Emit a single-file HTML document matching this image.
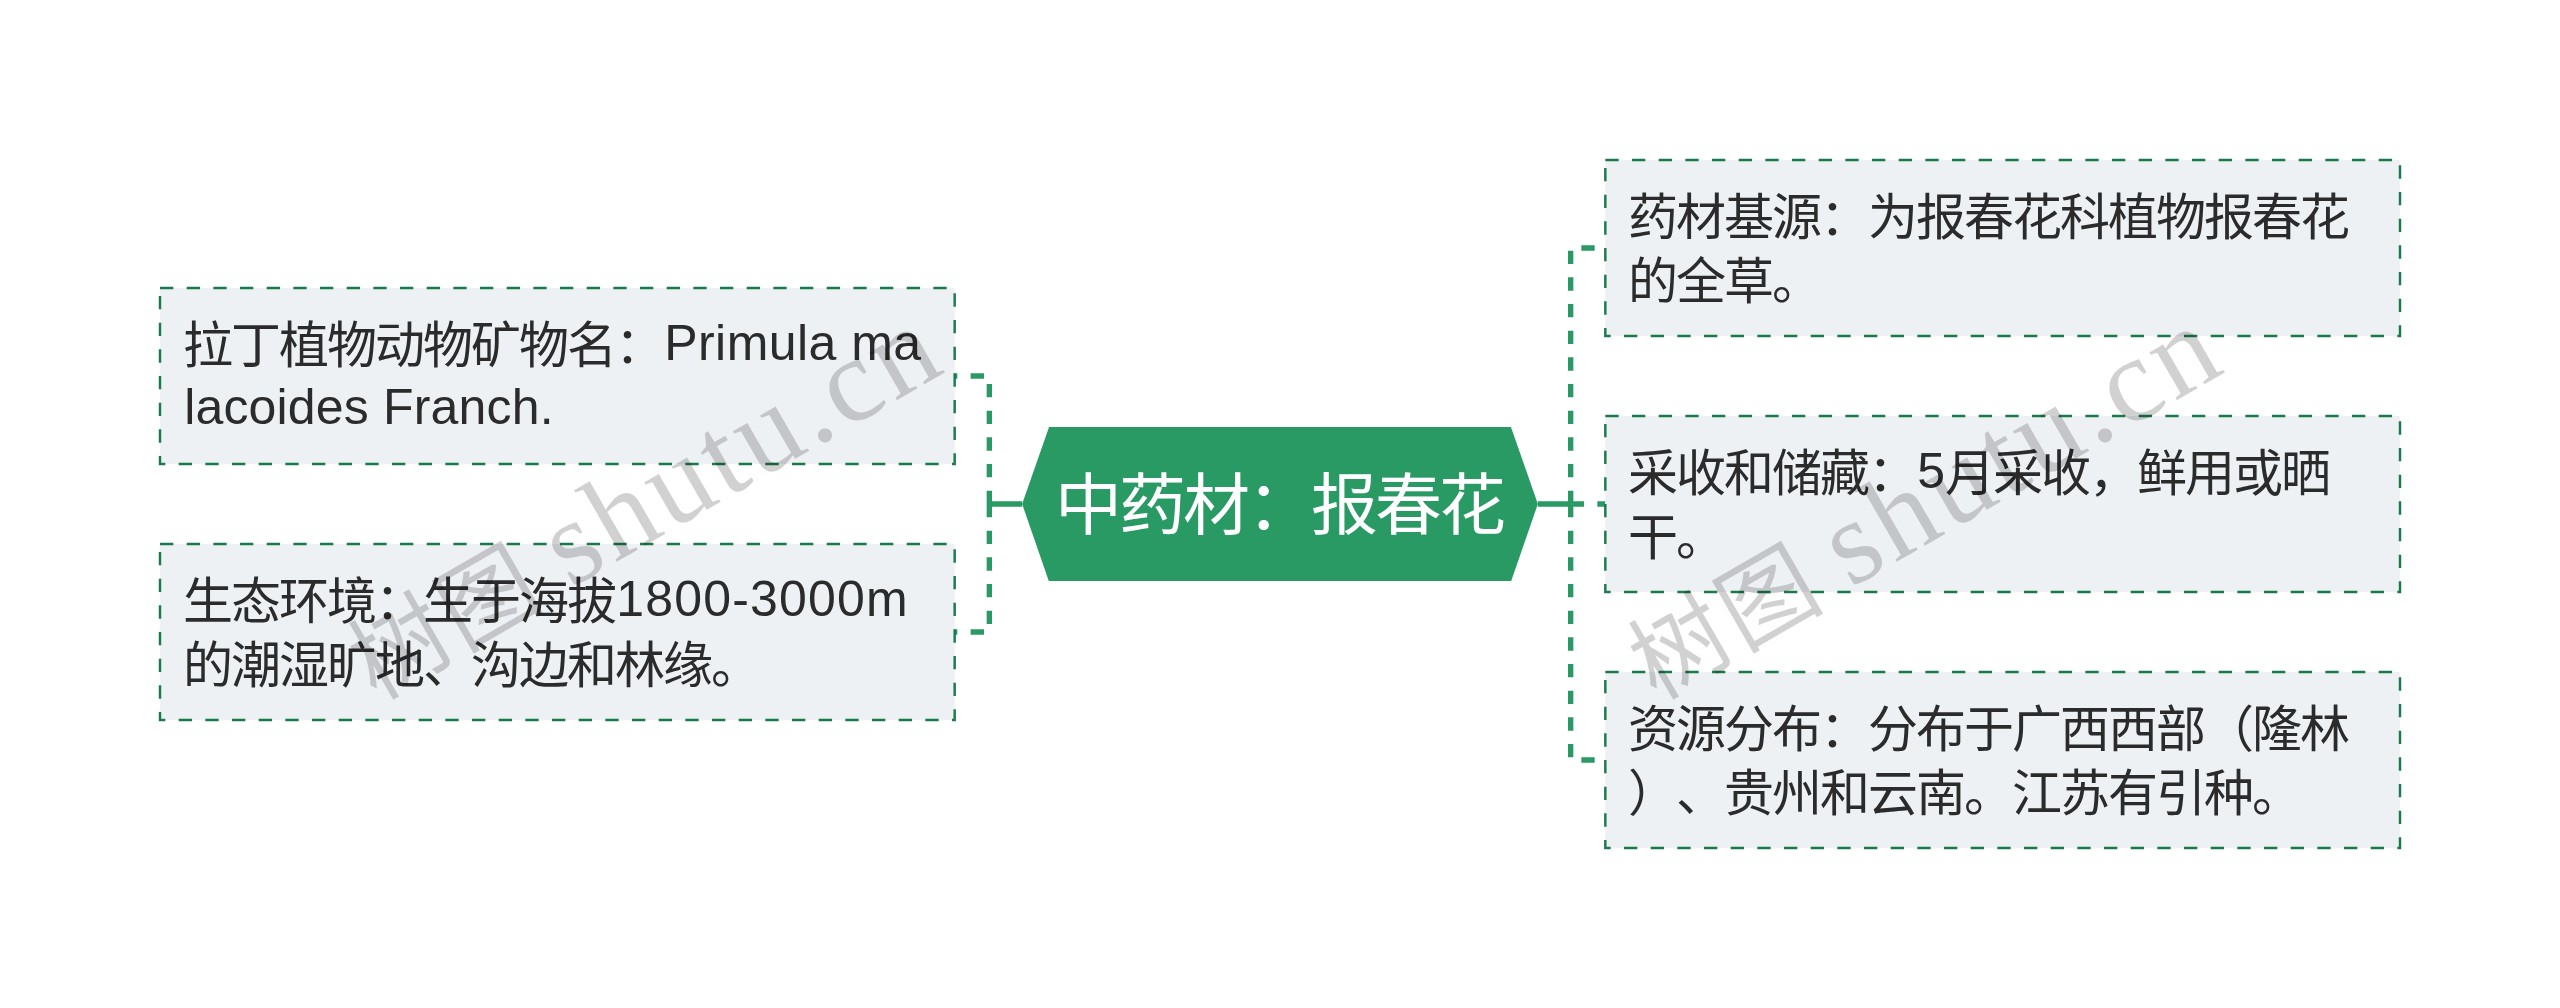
<!DOCTYPE html>
<html lang="zh-CN">
<head>
<meta charset="utf-8">
<title>中药材：报春花</title>
<style>
html,body{margin:0;padding:0;background:#fff;}
body{width:2560px;height:1008px;position:relative;overflow:hidden;font-family:"Liberation Sans",sans-serif;}
#shapes{position:absolute;left:0;top:0;width:2560px;height:1008px;}
.t{text-spacing-trim:space-all;position:absolute;white-space:nowrap;font-size:50px;letter-spacing:-2px;line-height:64px;height:64px;color:#2b2b2b;}
.t .p{display:inline-block;width:48px;letter-spacing:0;}
.t .l{font-size:50px;line-height:64px;position:relative;top:-2.5px;left:1.5px;}
.c{position:absolute;white-space:nowrap;font-size:67px;letter-spacing:-3px;line-height:86px;height:86px;color:#fff;left:1054.5px;top:463.3px;}
#wm{position:absolute;left:0;top:0;width:2560px;height:1008px;pointer-events:none;}
#wm text{font-family:"Liberation Serif",serif;fill:#000;fill-opacity:0.18;}
</style>
</head>
<body>
<svg id="shapes" viewBox="0 0 960 378" width="2560" height="1008">
  <g fill="none" stroke="#2a9a65" stroke-width="2">
    <path d="M383.3 189H371"/>
    <path d="M576.7 189H589"/>
    <g stroke-dasharray="5 5">
      <path d="M371 189V141H358"/>
      <path d="M371 189V237H358"/>
      <path d="M589 189V93H602"/>
      <path d="M589 189H602"/>
      <path d="M589 189V285H602"/>
    </g>
  </g>
  <polygon points="383.3,189 393.4,160.1 566.6,160.1 576.7,189 566.7,217.85 393.3,217.85" fill="#2a9a65"/>
  <g fill="#eef1f4" stroke="#1a7a4c" stroke-width="0.92" stroke-dasharray="5 5">
    <rect x="60" y="108" width="298" height="66"/>
    <rect x="60" y="204" width="298" height="66"/>
    <rect x="602" y="60" width="298" height="66"/>
    <rect x="602" y="156" width="298" height="66"/>
    <rect x="602" y="252" width="298" height="66"/>
  </g>
</svg>

<div class="c">中药材：报春花</div>

<div class="t" style="left:182.7px;top:313.5px;">拉丁植物动物矿物名：<span class="l" style="letter-spacing:0.45px">Primula ma</span></div>
<div class="t" style="left:182.7px;top:377.5px;"><span class="l" style="letter-spacing:0.17px">lacoides Franch.</span></div>

<div class="t" style="left:182.7px;top:569.5px;">生态环境：生于海拔<span class="l" style="letter-spacing:1.2px">1800-3000m</span></div>
<div class="t" style="left:182.7px;top:633.5px;">的潮湿旷地、沟边和林缘。</div>

<div class="t" style="left:1627.7px;top:185.5px;">药材基源：为报春花科植物报春花</div>
<div class="t" style="left:1627.7px;top:249.5px;">的全草。</div>

<div class="t" style="left:1627.7px;top:441.5px;">采收和储藏：<span class="l" style="letter-spacing:1.2px">5</span>月采收，鲜用或晒</div>
<div class="t" style="left:1627.7px;top:505.5px;">干。</div>

<div class="t" style="left:1627.7px;top:697.5px;">资源分布：分布于广西西部（隆林</div>
<div class="t" style="left:1627.7px;top:761.5px;"><span class="p">）</span><span class="p">、</span>贵州和云南。江苏有引种。</div>

<svg id="wm" viewBox="0 0 2560 1008" width="2560" height="1008">
  <g transform="translate(375.6 701.1) rotate(-30)">
    <text x="0" y="0" font-size="96" letter-spacing="5">树图</text>
    <text x="225" y="0" font-size="120" letter-spacing="4.4">shutu.cn</text>
  </g>
  <g transform="translate(1655.6 701.1) rotate(-30)">
    <text x="0" y="0" font-size="96" letter-spacing="5">树图</text>
    <text x="225" y="0" font-size="120" letter-spacing="4.4">shutu.cn</text>
  </g>
</svg>
</body>
</html>
